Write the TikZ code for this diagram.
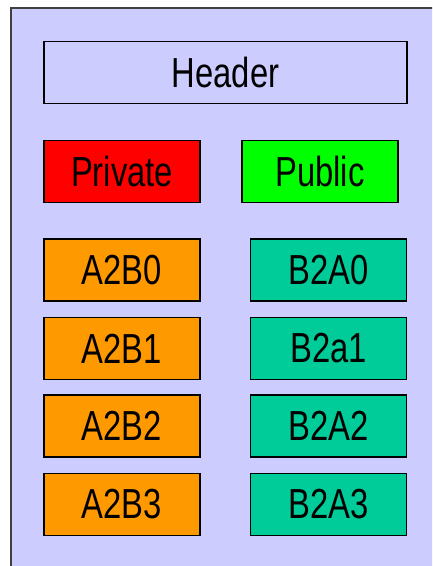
\documentclass[tikz,border=0pt]{standalone}
\usepackage{fontspec}
\setmainfont[FakeStretch=0.78]{Liberation Sans}
\definecolor{bgc}{HTML}{CCCCFF}
\definecolor{redc}{HTML}{FF0000}
\definecolor{greenc}{HTML}{00FF00}
\definecolor{orangec}{HTML}{FF9900}
\definecolor{tealc}{HTML}{00CC99}
\tikzset{
  box/.style={draw=black, line width=1.4pt, minimum height=62pt, inner sep=0pt, font=\fontsize{42}{42}\selectfont, text=black},
  smallbox/.style={box, minimum width=156pt},
}
\begin{document}
\begin{tikzpicture}[x=1pt,y=-1pt]
\useasboundingbox (0,0) rectangle (432,566);
\clip (0,0) rectangle (432,566);
\fill[white] (0,0) rectangle (432,566);
\draw[fill=bgc, draw=black!75, line width=1.5pt] (11,8) rectangle (445,580);
\node[box, minimum width=363pt, fill=bgc] (header) at (225.5,72.5) {Header};
\node[smallbox, fill=redc] (private) at (122,171.5) {Private};
\node[smallbox, fill=greenc] (public) at (320,171.5) {Public};
\node[smallbox, fill=orangec] (a0) at (122,270) {A2B0};
\node[smallbox, fill=orangec] (a1) at (122,348.5) {A2B1};
\node[smallbox, fill=orangec] (a2) at (122,426) {A2B2};
\node[smallbox, fill=orangec] (a3) at (122,504.5) {A2B3};
\node[smallbox, fill=tealc] (b0) at (328.5,270) {B2A0};
\node[smallbox, fill=tealc] (b1) at (328.5,348.5) {B2a1};
\node[smallbox, fill=tealc] (b2) at (328.5,426) {B2A2};
\node[smallbox, fill=tealc] (b3) at (328.5,504.5) {B2A3};
\end{tikzpicture}
\end{document}
